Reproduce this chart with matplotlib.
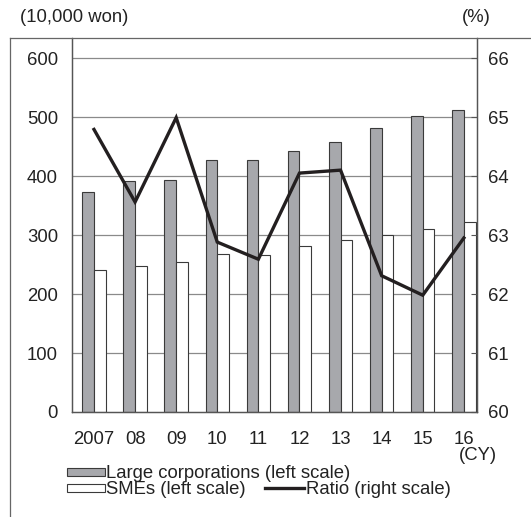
import matplotlib
matplotlib.use("Agg")
import matplotlib.pyplot as plt
import numpy as np
from matplotlib.patches import Rectangle
from matplotlib.lines import Line2D

plt.rcParams['font.family'] = ['Liberation Sans', 'DejaVu Sans']

years = ["2007", "08", "09", "10", "11", "12", "13", "14", "15", "16"]
large = [373, 391, 393, 428, 427, 442, 458, 482, 501, 512]
smes = [241, 248, 254, 268, 266, 282, 292, 300, 310, 322]
ratio = [64.79, 63.56, 64.99, 62.88, 62.59, 64.05, 64.10, 62.31, 61.98, 62.95]
left_ticks = [0, 100, 200, 300, 400, 500, 600]
right_ticks = [60, 61, 62, 63, 64, 65, 66]

W, H = 531, 517
fig = plt.figure(figsize=(W / 100, H / 100), dpi=100)
fs = 13.3

def fx(px):
    return px / W

def fy(py):
    return 1 - py / H

ax = fig.add_axes([fx(72), fy(412), fx(477) - fx(72), fy(38) - fy(412)])
ax2 = ax.twinx()

x = np.arange(len(years))
bw = 0.285
grid_c = "#8a8a8a"
for t in left_ticks[1:]:
    ax.axhline(t, color=grid_c, lw=0.9, zorder=0)

ax.bar(x - bw / 2, large, width=bw, color="#a7a8ac", edgecolor="#3a3a3a", lw=0.8, zorder=2)
ax.bar(x + bw / 2, smes, width=bw, color="white", edgecolor="#3a3a3a", lw=0.8, zorder=2)

ax.set_xlim(-0.535, 9.32)
ax.set_ylim(0, 634)
ax.set_yticks(left_ticks)
ax.set_yticklabels([str(t) for t in left_ticks], fontsize=fs, color="#222222")
ax.tick_params(axis="y", length=0, pad=10)
ax.set_xticks(x)
ax.set_xticklabels(years, fontsize=fs, color="#222222")
ax.tick_params(axis="x", length=0, pad=14)

ax2.plot(x, ratio, color="#231f20", lw=2.4, zorder=5, solid_joinstyle="miter")
ax2.set_ylim(60, 60 + 634 / 100)
ax2.set_yticks(right_ticks)
ax2.set_yticklabels([str(t) for t in right_ticks], fontsize=fs, color="#222222")
ax2.tick_params(axis="y", direction="in", length=4, width=0.8, color="#555555", pad=8)

for a in (ax, ax2):
    for s in a.spines.values():
        s.set_color("#555555")
        s.set_linewidth(0.9)
    a.spines["top"].set_visible(False)

ax.set_zorder(ax2.get_zorder() - 1)
ax2.patch.set_visible(False)

# frame around figure
fig.add_artist(Line2D([fx(10), fx(10)], [fy(38), fy(517)], color="#666666", lw=0.9))
fig.add_artist(Line2D([fx(10), fx(531)], [fy(38), fy(38)], color="#666666", lw=0.9))

fig.text(fx(20), fy(17), "(10,000 won)", fontsize=fs, va="center", ha="left", color="#222222")
fig.text(fx(491), fy(17), "(%)", fontsize=fs, va="center", ha="right", color="#222222")
fig.text(fx(478), fy(456), "(CY)", fontsize=fs, va="center", ha="center", color="#222222")

# legend
fig.add_artist(Rectangle((fx(67), fy(476)), fx(105) - fx(67), fy(468) - fy(476),
                         facecolor="#a7a8ac", edgecolor="#3a3a3a", lw=0.8))
fig.text(fx(106), fy(474), "Large corporations (left scale)", fontsize=fs, va="center", ha="left", color="#222222")
fig.add_artist(Rectangle((fx(67), fy(492)), fx(105) - fx(67), fy(484) - fy(492),
                         facecolor="white", edgecolor="#3a3a3a", lw=0.8))
fig.text(fx(106), fy(490), "SMEs (left scale)", fontsize=fs, va="center", ha="left", color="#222222")
fig.add_artist(Line2D([fx(265), fx(304)], [fy(488), fy(488)], color="#231f20", lw=2.4))
fig.text(fx(306), fy(490), "Ratio (right scale)", fontsize=fs, va="center", ha="left", color="#222222")

fig.savefig("out.png", dpi=100)
